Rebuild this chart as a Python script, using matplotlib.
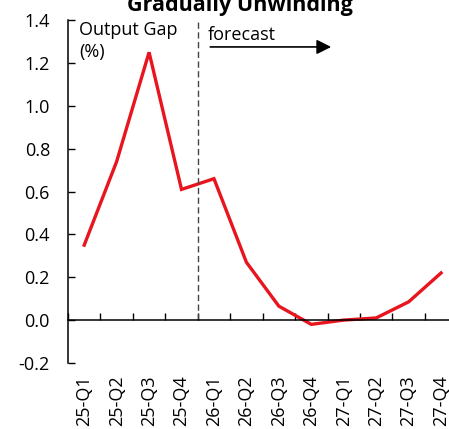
import numpy as np
import matplotlib
matplotlib.use('Agg')
from matplotlib import pyplot as plt
from matplotlib.transforms import blended_transform_factory

plt.rcParams['font.family'] = ['Open Sans', 'DejaVu Sans']

quarters = ['25-Q1', '25-Q2', '25-Q3', '25-Q4', '26-Q1', '26-Q2',
            '26-Q3', '26-Q4', '27-Q1', '27-Q2', '27-Q3', '27-Q4']
output_gap = [0.35, 0.74, 1.25, 0.61, 0.66, 0.27,
              0.065, -0.02, 0.0, 0.01, 0.085, 0.22]
yticks = [-0.2, 0.0, 0.2, 0.4, 0.6, 0.8, 1.0, 1.2, 1.4]
forecast_start = 4

fig = plt.figure(figsize=(4.49, 4.29), dpi=100)
ax = fig.add_axes([0.1514, 0.154, 0.867, 0.799])

x = np.arange(len(quarters)) + 0.5
ax.plot(x, output_gap, color='#e8141e', lw=2.4, solid_joinstyle='miter')

ax.set_xlim(0, len(quarters))
ax.set_ylim(-0.2, 1.4)

# y axis
ax.set_yticks(yticks)
ax.set_yticklabels(['{:.1f}'.format(v) for v in yticks])
ax.tick_params(axis='y', direction='in', length=5, width=1, pad=13, labelsize=13)

# x axis sits on zero, ticks on category boundaries
ax.spines['bottom'].set_position(('data', 0))
ax.spines['top'].set_visible(False)
ax.spines['right'].set_visible(False)
for s in ['left', 'bottom']:
    ax.spines[s].set_linewidth(1.1)
ax.set_xticks(np.arange(len(quarters) + 1))
ax.set_xticklabels([])
ax.tick_params(axis='x', direction='in', length=5, width=1)

trans = blended_transform_factory(ax.transData, ax.transAxes)
for xi, q in zip(x, quarters):
    ax.text(xi, -0.035, q, rotation=90, ha='center', va='top',
            fontsize=13, transform=trans)

# forecast marker
ax.plot([forecast_start, forecast_start], [0, 1.4], color='#444444',
        lw=1, ls=(0, (4.5, 2.5)))
ax.text(forecast_start + 0.3, 1.33, 'forecast', fontsize=13, va='center')
ax.annotate('', xy=(8.2, 1.275), xytext=(forecast_start + 0.3, 1.275),
            arrowprops=dict(arrowstyle='-|>', color='black', lw=1.2,
                            mutation_scale=22))

ax.text(0.35, 1.395, 'Output Gap\n(%)', fontsize=13, va='top', linespacing=1.25)

fig.text(240 / 449, 1 - 11 / 429, 'Gradually Unwinding', ha='center',
         va='baseline', fontsize=15.5, fontweight='bold')

plt.savefig('out.png', dpi=100)
